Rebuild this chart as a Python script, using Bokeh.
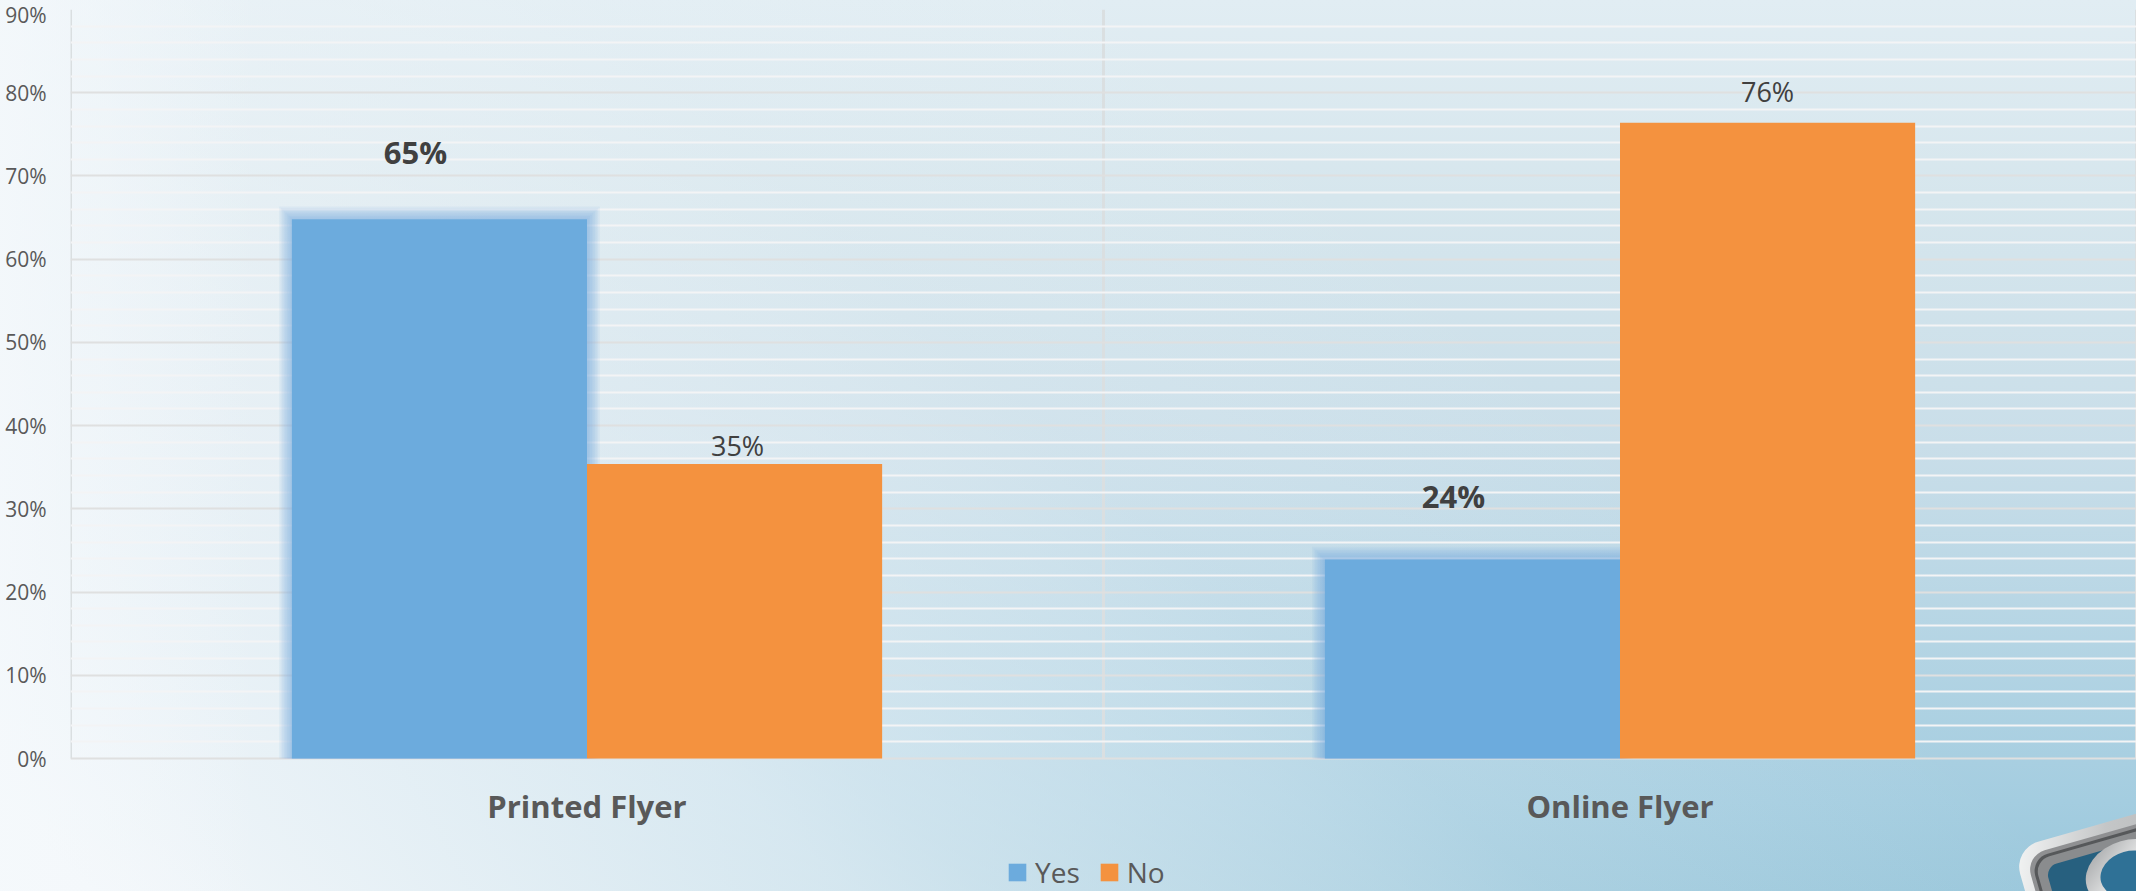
from urllib.parse import quote

from bokeh.core.properties import value
from bokeh.embed import file_html
from bokeh.models import (ColumnDataSource, FactorRange, FixedTicker, Legend, LegendItem,
                          PrintfTickFormatter, Range1d)
from bokeh.plotting import figure
from bokeh.resources import INLINE
from bokeh.transform import dodge

categories = ["Printed Flyer", "Online Flyer"]
yes_values = [64.8, 23.9]
no_values = [35.4, 76.4]
yes_labels = ["65%", "24%"]
no_labels = ["35%", "76%"]
tick_values = list(range(0, 100, 10))
minor_values = [v for v in range(0, 92, 2) if v % 10]

FONT = "Open Sans"
BAR_W = 1 / 3.5
W, H = 2136, 891
FRAME_W = 2066
PX_PER_UNIT = 749 / 90
Y_BOTTOM = -133 / PX_PER_UNIT   # the frame runs on to the page's foot, so the legend can sit in it

# decorative corner badge, page furniture only
badge = f"""<svg xmlns='http://www.w3.org/2000/svg' width='{W}' height='{H}'>
<defs><linearGradient id='g' x1='0' y1='0' x2='1' y2='0.4'><stop offset='0' stop-color='#f4f5f5'/><stop offset='0.2' stop-color='#c4c6c7'/><stop offset='1' stop-color='#8f9193'/></linearGradient>
<linearGradient id='r' x1='0' y1='0' x2='1' y2='1'><stop offset='0' stop-color='#9a9c9e'/><stop offset='0.5' stop-color='#eceded'/><stop offset='1' stop-color='#ffffff'/></linearGradient></defs>
<g transform='translate(2013 849) rotate(-16)'>
<rect width='420' height='420' rx='26' fill='url(#g)'/>
<rect x='10' y='10' width='400' height='400' rx='20' fill='#8f9092'/>
<rect x='14' y='14' width='392' height='392' rx='18' fill='#56585a'/>
<rect x='17' y='17' width='386' height='386' rx='16' fill='#8a8c8e'/>
<rect x='26' y='26' width='368' height='368' rx='12' fill='#27607f'/>
</g>
<ellipse cx='2130' cy='874' rx='45' ry='34' transform='rotate(-16 2130 874)' fill='url(#r)'/>
<ellipse cx='2130' cy='874' rx='30' ry='23' transform='rotate(-16 2130 874)' fill='#2f7196'/>
</svg>"""

backgrounds = [
    f"url(\"data:image/svg+xml,{quote(badge)}\") no-repeat 0 0",
    "linear-gradient(to right, rgba(245,249,252,0.8) 0%, rgba(245,249,252,0) 12%)",
    "linear-gradient(43deg, rgba(243,247,250,1) 3%, rgba(243,247,250,0.82) 16%, rgba(243,247,250,0.65) 27.5%, "
    "rgba(243,247,250,0.54) 32%, rgba(243,247,250,0.45) 37%, rgba(243,247,250,0.3) 45%, "
    "rgba(243,247,250,0.18) 50%, rgba(243,247,250,0) 68%)",
    "linear-gradient(to bottom, #e1edf3 0%, #d6e6ed 22%, #c9dee9 50%, #a4cde0 90%, #9ac7db 100%)",
]

p = figure(x_range=FactorRange(*categories, range_padding=0), y_range=Range1d(Y_BOTTOM, 90),
           width=W, height=H, output_backend="svg", toolbar_location=None,
           min_border_left=70, min_border_right=0, min_border_top=9, min_border_bottom=0)
p.styles = {"background": ", ".join(backgrounds)}
p.background_fill_alpha = 0
p.border_fill_alpha = 0
p.outline_line_color = None

p.yaxis.ticker = FixedTicker(ticks=tick_values, minor_ticks=minor_values)
p.yaxis.formatter = PrintfTickFormatter(format="%d%%")
p.yaxis.axis_line_color = None
p.yaxis.major_tick_line_color = None
p.yaxis.minor_tick_line_color = None
p.yaxis.major_label_text_font = FONT
p.yaxis.major_label_text_font_size = "21px"
p.yaxis.major_label_text_color = "#595959"
p.yaxis.major_label_standoff = 18

p.xaxis.fixed_location = 0
p.xaxis.axis_line_color = None
p.xaxis.major_tick_line_color = None
p.xaxis.major_label_text_font = FONT
p.xaxis.major_label_text_font_style = "bold"
p.xaxis.major_label_text_font_size = "31px"
p.xaxis.major_label_text_color = "#595959"
p.xaxis.major_label_standoff = 20

p.xgrid.grid_line_color = None
p.ygrid.ticker = FixedTicker(ticks=tick_values, minor_ticks=minor_values)
p.ygrid.grid_line_color = "#dfe0e0"
p.ygrid.grid_line_width = 2
p.ygrid.minor_grid_line_color = "#f3f4f5"
p.ygrid.minor_grid_line_width = 2

# plot-area edges and the divider between the two categories
p.segment(x0=[0, 1, 2], y0=0, x1=[0, 1, 2], y1=90, line_color="#dadfe1", line_width=3, level="underlay")

src = ColumnDataSource(dict(cat=categories, yes=yes_values, no=no_values))

# soft glow behind the blue bars
for i in range(1, 9):
    px = i * 1.6
    glow = ColumnDataSource(dict(cat=categories, top=[v + px / PX_PER_UNIT for v in yes_values]))
    p.vbar(x=dodge("cat", -BAR_W / 2, range=p.x_range), bottom=0, top="top",
           width=BAR_W + 2 * px / (FRAME_W / 2), source=glow,
           fill_color="#6cabdd", fill_alpha=0.09, line_color=None)

yes_r = p.vbar(x=dodge("cat", -BAR_W / 2, range=p.x_range), bottom=0, top="yes", width=BAR_W,
               source=src, fill_color="#6cabdd", line_color=None)
no_r = p.vbar(x=dodge("cat", BAR_W / 2, range=p.x_range), bottom=0, top="no", width=BAR_W,
              source=src, fill_color="#f4923f", line_color=None)

for i, (dx, dy) in enumerate([(-24, -67), (-19, -64)]):
    one = ColumnDataSource(dict(cat=[categories[i]], y=[yes_values[i]], t=[yes_labels[i]]))
    p.text(x=dodge("cat", -BAR_W / 2, range=p.x_range), y="y", text="t", source=one,
           x_offset=dx, y_offset=dy, text_align="center", text_baseline="middle",
           text_font=value(FONT), text_font_style="bold", text_font_size="31px", text_color="#404040")
for i, (dx, dy) in enumerate([(3, -18), (0, -31)]):
    one = ColumnDataSource(dict(cat=[categories[i]], y=[no_values[i]], t=[no_labels[i]]))
    p.text(x=dodge("cat", BAR_W / 2, range=p.x_range), y="y", text="t", source=one,
           x_offset=dx, y_offset=dy, text_align="center", text_baseline="middle",
           text_font=value(FONT), text_font_size="27px", text_color="#404040")

legend = Legend(items=[LegendItem(label="Yes", renderers=[yes_r]), LegendItem(label="No", renderers=[no_r])],
                orientation="horizontal", location=(936, 0), background_fill_alpha=0,
                border_line_color=None, glyph_width=22, glyph_height=22, label_standoff=7,
                spacing=18, padding=0, margin=0, label_text_font=FONT,
                label_text_font_size="28px", label_text_color="#595959")
p.add_layout(legend, "center")

open("out.html", "w").write(file_html(p, INLINE))
